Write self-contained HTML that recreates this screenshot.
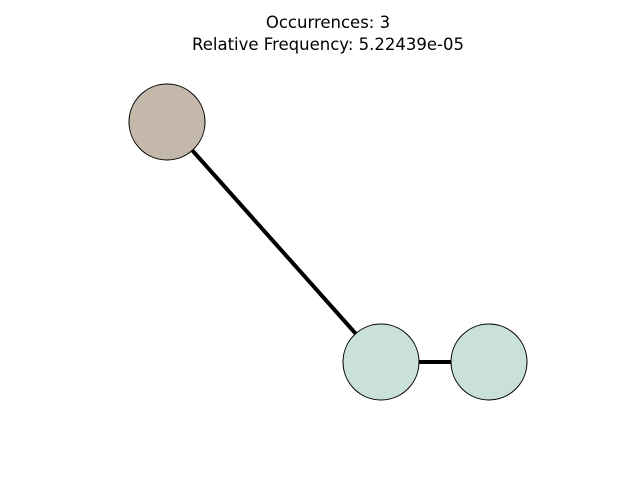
<!DOCTYPE html>
<html><head><meta charset="utf-8"><style>
html,body{margin:0;padding:0;background:#fff;}
</style></head><body>
<svg width="640" height="480" xmlns="http://www.w3.org/2000/svg">
<rect width="640" height="480" fill="#fff"/>
<text x="328" y="28" text-anchor="middle" font-family="DejaVu Sans, Liberation Sans, sans-serif" font-size="16.5" fill="#000">Occurrences: 3</text>
<text x="328" y="50" text-anchor="middle" font-family="DejaVu Sans, Liberation Sans, sans-serif" font-size="16.5" fill="#000">Relative Frequency: 5.22439e-05</text>
<line x1="167" y1="122" x2="381" y2="362" stroke="#000" stroke-width="4"/>
<line x1="381" y1="362" x2="489" y2="362" stroke="#000" stroke-width="4"/>
<circle cx="167" cy="122" r="38" fill="#c4b8aa" stroke="#000" stroke-width="1"/>
<circle cx="381" cy="362" r="38" fill="#cae1da" stroke="#000" stroke-width="1"/>
<circle cx="489" cy="362" r="38" fill="#cae1da" stroke="#000" stroke-width="1"/>
</svg>
</body></html>
